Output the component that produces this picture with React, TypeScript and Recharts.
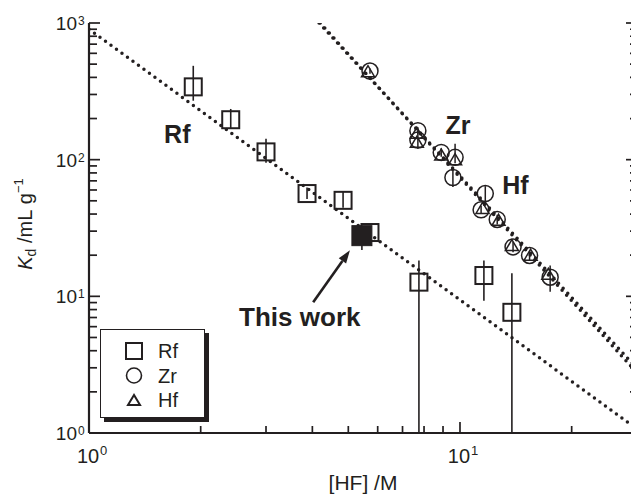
import { ComposedChart, Line, Scatter, XAxis, YAxis, ErrorBar, ReferenceLine, ReferenceDot, Legend } from 'recharts';

const INK = '#231f20';
const FONT = '"Liberation Sans", Arial, Helvetica, sans-serif';

// [HF] (M) against Kd (mL/g); err = [down, up]
const rfData = [
  { hf: 1.91, kd: 341, err: [71, 145] },
  { hf: 2.41, kd: 196, err: [28, 39] },
  { hf: 3.0, kd: 114, err: [19, 28] },
  { hf: 3.87, kd: 56.5, err: [5, 6] },
  { hf: 4.84, kd: 50.4, err: [6, 8] },
  { hf: 5.72, kd: 29.3, err: [3, 3] },
  { hf: 7.75, kd: 12.7, err: [11.7, 5.6] },
  { hf: 11.6, kd: 14.2, err: [4.9, 4.1] },
  { hf: 13.8, kd: 7.64, err: [6.64, 7.1] },
];
const thisWorkData = [{ hf: 5.44, kd: 27.8, err: [6, 3] }];
const zrData = [
  { hf: 5.72, kd: 445, err: [20, 20] },
  { hf: 7.7, kd: 163, err: [10, 10] },
  { hf: 7.7, kd: 139, err: [19, 24] },
  { hf: 8.9, kd: 113, err: [8, 8] },
  { hf: 9.7, kd: 104, err: [10, 27] },
  { hf: 9.57, kd: 74, err: [11, 10] },
  { hf: 11.7, kd: 56.5, err: [8.5, 7.5] },
  { hf: 11.4, kd: 43, err: [3, 3] },
  { hf: 12.6, kd: 36.5, err: [3, 3] },
  { hf: 13.9, kd: 23, err: [2, 2] },
  { hf: 15.4, kd: 19.9, err: [1.5, 1.5] },
  { hf: 17.5, kd: 13.8, err: [3, 3] },
];
const hfData = [
  { hf: 5.65, kd: 440 },
  { hf: 7.65, kd: 156 },
  { hf: 7.65, kd: 134 },
  { hf: 8.9, kd: 108 },
  { hf: 9.7, kd: 100 },
  { hf: 11.5, kd: 44 },
  { hf: 12.7, kd: 36 },
  { hf: 13.8, kd: 23.5 },
  { hf: 15.5, kd: 20 },
  { hf: 17.3, kd: 14.5 },
];

// fitted lines (straight in log-log, so two ends are enough)
const rfFit = [{ hf: 1, kd: 900 }, { hf: 30, kd: 1.07 }];
const zrFit = [{ hf: 4.17, kd: 1000 }, { hf: 30, kd: 2.97 }];
const hfFit = [{ hf: 4.2, kd: 1000 }, { hf: 30, kd: 2.75 }];

const xTicks = [1, 2, 3, 4, 5, 6, 7, 8, 9, 10, 20, 30];
const yTicks = [
  1, 2, 3, 4, 5, 6, 7, 8, 9,
  10, 20, 30, 40, 50, 60, 70, 80, 90,
  100, 200, 300, 400, 500, 600, 700, 800, 900,
  1000,
];

const legendOrder = ['Rf', 'Zr', 'Hf'];

const arrowFrom = { hf: 4.02, kd: 9.04 };
const arrowTo = { hf: 5.05, kd: 21.7 };

const notes = [
  { text: 'Rf', hf: 1.73, kd: 155, size: 25 },
  { text: 'Zr', hf: 9.87, kd: 180, size: 25 },
  { text: 'Hf', hf: 14.1, kd: 64.6, size: 25 },
  { text: 'This work', hf: 3.7, kd: 7.03, size: 26 },
];

const decade = (v: number) => {
  const l = Math.log10(v);
  return Math.abs(l - Math.round(l)) < 1e-9;
};

function LeftTick({ x, y, payload }: any) {
  const major = decade(payload.value);
  return (
    <g>
      <line x1={x} x2={x + (major ? 11 : 8)} y1={y} y2={y} stroke={INK} strokeWidth={1.7} />
      {major && (
        <>
          <text x={77} y={y + 7} textAnchor="end" fontSize={19} fill={INK}>10</text>
          <text x={78} y={y + 2} fontSize={12} fill={INK}>{Math.round(Math.log10(payload.value))}</text>
        </>
      )}
    </g>
  );
}

function BottomTick({ x, y, payload }: any) {
  const major = decade(payload.value);
  return (
    <g>
      <line x1={x} x2={x} y1={y} y2={y - (major ? 11 : 7)} stroke={INK} strokeWidth={1.7} />
      {major && (
        <>
          <text x={x - 1} y={y + 30} textAnchor="middle" fontSize={20} fill={INK}>10</text>
          <text x={x + 11} y={y + 22} fontSize={13} fill={INK}>{Math.round(Math.log10(payload.value))}</text>
        </>
      )}
    </g>
  );
}

function TopTick({ x, y, payload }: any) {
  const major = decade(payload.value);
  return <line x1={x} x2={x} y1={y} y2={y + (major ? 11 : 8)} stroke={INK} strokeWidth={1.7} />;
}

function RightTick({ x, y, payload }: any) {
  const major = decade(payload.value);
  return <line x1={x} x2={x - (major ? 11 : 7)} y1={y} y2={y} stroke={INK} strokeWidth={1.7} />;
}

const OpenSquare = (p: any) => (
  <rect x={p.cx - 8.5} y={p.cy - 8.5} width={17} height={17} fill="none" stroke={INK} strokeWidth={2} />
);
const FilledSquare = (p: any) => (
  <rect x={p.cx - 10} y={p.cy - 10} width={20} height={20} fill={INK} stroke={INK} strokeWidth={1} />
);
const OpenCircle = (p: any) => <circle cx={p.cx} cy={p.cy} r={8} fill="none" stroke={INK} strokeWidth={1.5} />;
const OpenTriangle = (p: any) => (
  <polygon
    points={`${p.cx},${p.cy - 6} ${p.cx - 6.5},${p.cy + 5} ${p.cx + 6.5},${p.cy + 5}`}
    fill="none"
    stroke={INK}
    strokeWidth={1.5}
  />
);

function Arrow({ x1, y1, x2, y2 }: any) {
  const ang = Math.atan2(y2 - y1, x2 - x1);
  const len = 13;
  const half = 4.5;
  const bx = x2 - len * Math.cos(ang);
  const by = y2 - len * Math.sin(ang);
  const px = -Math.sin(ang) * half;
  const py = Math.cos(ang) * half;
  return (
    <g>
      <line x1={x1} y1={y1} x2={bx} y2={by} stroke={INK} strokeWidth={2.6} />
      <polygon points={`${x2},${y2} ${bx + px},${by + py} ${bx - px},${by - py}`} fill={INK} />
    </g>
  );
}

function YTitle() {
  return (
    <text x={32} y={224} transform="rotate(-90, 32, 224)" textAnchor="middle" fontSize={20} fill={INK}>
      <tspan fontStyle="italic">K</tspan>
      <tspan fontSize={14} dy={4}>d</tspan>
      <tspan dy={-4}>{'\u00a0/mL\u00a0g'}</tspan>
      <tspan fontSize={13} dy={-9}>−1</tspan>
    </text>
  );
}

function LegendBox({ payload }: any) {
  const rows = legendOrder.filter((name) => (payload || []).some((e: any) => e.value === name));
  return (
    <div
      style={{
        width: 105,
        height: 89,
        boxSizing: 'border-box',
        border: `1.5px solid ${INK}`,
        boxShadow: `4px 4px 0 ${INK}`,
        background: '#fff',
      }}
    >
      <svg width={102} height={86}>
        {rows.map((name, i) => {
          const cy = 21 + i * 24.5;
          const cx = 33;
          return (
            <g key={name}>
              {name === 'Rf' && <rect x={cx - 8} y={cy - 8} width={16} height={16} fill="none" stroke={INK} strokeWidth={2} />}
              {name === 'Zr' && <circle cx={cx} cy={cy} r={7.5} fill="none" stroke={INK} strokeWidth={1.6} />}
              {name === 'Hf' && (
                <polygon points={`${cx},${cy - 5} ${cx - 6},${cy + 5} ${cx + 6},${cy + 5}`} fill="none" stroke={INK} strokeWidth={2} />
              )}
              <text x={57} y={cy + 7} fontSize={20} fill={INK} fontFamily={FONT}>{name}</text>
            </g>
          );
        })}
      </svg>
    </div>
  );
}

const fitLine = {
  stroke: INK,
  strokeWidth: 3.5,
  strokeDasharray: '0 6.8',
  strokeLinecap: 'round' as const,
  dot: false,
  activeDot: false,
  legendType: 'none' as const,
  isAnimationActive: false,
};

export default function App() {
  return (
    <div style={{ position: 'fixed', left: 0, top: 0, width: 631, height: 494, overflow: 'hidden', background: '#fff', fontFamily: FONT }}>
      <ComposedChart width={640} height={494} margin={{ top: 23, right: 0, bottom: 0, left: 0 }} style={{ fontFamily: FONT }}>
        <XAxis
          dataKey="hf"
          type="number"
          scale="log"
          domain={[1, 30]}
          allowDataOverflow
          ticks={xTicks}
          interval={0}
          height={61}
          tickSize={0}
          tickMargin={0}
          tickLine={false}
          tick={(p: any) => <BottomTick {...p} />}
          axisLine={{ stroke: INK, strokeWidth: 2.2 }}
          label={{ value: '[HF] /M', position: 'insideBottom', offset: 4, fill: INK, fontSize: 21 }}
        />
        <XAxis
          xAxisId="top"
          orientation="top"
          type="number"
          scale="log"
          domain={[1, 30]}
          allowDataOverflow
          ticks={xTicks}
          interval={0}
          height={0}
          tickSize={0}
          tickMargin={0}
          tickLine={false}
          tick={(p: any) => <TopTick {...p} />}
          axisLine={{ stroke: INK, strokeWidth: 2.2 }}
        />
        <YAxis
          dataKey="kd"
          type="number"
          scale="log"
          domain={[1, 1000]}
          allowDataOverflow
          ticks={yTicks}
          interval={0}
          width={89}
          tickSize={0}
          tickMargin={0}
          tickLine={false}
          tick={(p: any) => <LeftTick {...p} />}
          axisLine={{ stroke: INK, strokeWidth: 2.2 }}
          label={<YTitle />}
        />
        <YAxis
          yAxisId="right"
          orientation="right"
          type="number"
          scale="log"
          domain={[1, 1000]}
          allowDataOverflow
          ticks={yTicks}
          interval={0}
          width={3}
          tickSize={0}
          tickMargin={0}
          tickLine={false}
          tick={(p: any) => <RightTick {...p} />}
          axisLine={{ stroke: INK, strokeWidth: 2.2 }}
        />

        <Line data={rfFit} dataKey="kd" {...fitLine} />
        <Line data={zrFit} dataKey="kd" {...fitLine} />
        <Line data={hfFit} dataKey="kd" {...fitLine} />

        <Scatter name="Rf" data={rfData} shape={OpenSquare} isAnimationActive={false}>
          <ErrorBar dataKey="err" direction="y" width={0} stroke={INK} strokeWidth={1.6} />
        </Scatter>
        <Scatter name="This work" data={thisWorkData} shape={FilledSquare} legendType="none" isAnimationActive={false}>
          <ErrorBar dataKey="err" direction="y" width={0} stroke={INK} strokeWidth={1.6} />
        </Scatter>
        <Scatter name="Zr" data={zrData} shape={OpenCircle} isAnimationActive={false}>
          <ErrorBar dataKey="err" direction="y" width={0} stroke={INK} strokeWidth={1.5} />
        </Scatter>
        <Scatter name="Hf" data={hfData} shape={OpenTriangle} isAnimationActive={false} />

        <ReferenceLine segment={[{ x: arrowFrom.hf, y: arrowFrom.kd }, { x: arrowTo.hf, y: arrowTo.kd }]} shape={Arrow} />

        {notes.map((n) => (
          <ReferenceDot
            key={n.text}
            x={n.hf}
            y={n.kd}
            r={0}
            stroke="none"
            fill="none"
            label={{ value: n.text, position: 'center', fill: INK, fontSize: n.size, fontWeight: 'bold' }}
          />
        ))}

        <Legend
          layout="vertical"
          align="center"
          verticalAlign="middle"
          wrapperStyle={{ left: 100, top: 329, width: 110, height: 94 }}
          content={LegendBox}
        />
      </ComposedChart>
    </div>
  );
}
